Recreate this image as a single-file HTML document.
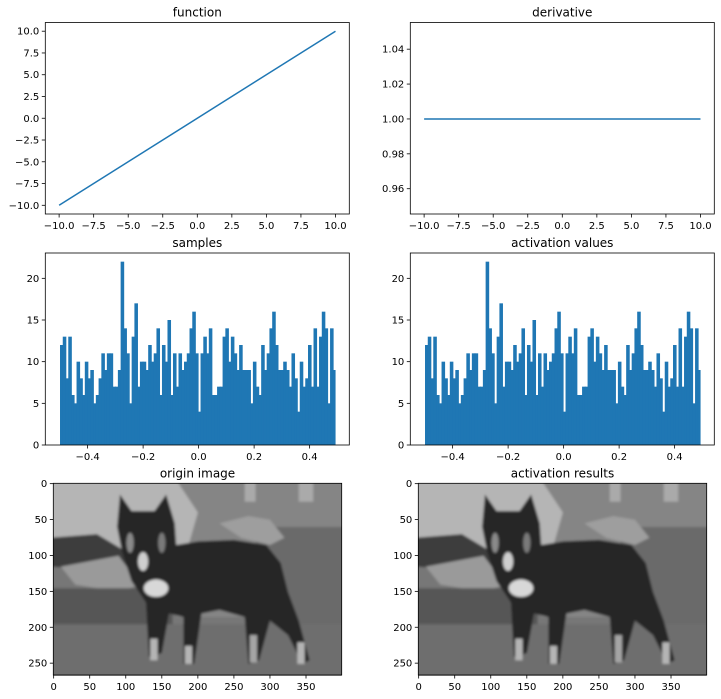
<!DOCTYPE html>
<html><head><meta charset="utf-8">
<style>
html,body{margin:0;padding:0;background:#fff;}
svg{display:block;font-family:"DejaVu Sans","Liberation Sans",sans-serif;}
</style></head>
<body>
<svg id="fig" width="721" height="699" viewBox="0 0 721 699" xmlns="http://www.w3.org/2000/svg">
<defs>
<filter id="blur" x="-5%" y="-5%" width="110%" height="110%"><feGaussianBlur stdDeviation="1.8"/></filter>
<clipPath id="imgclip"><rect x="-0.5" y="-0.5" width="400" height="267"/></clipPath>
</defs>
</svg>
<script>
const funcX = [-10, 10];
const funcY = [-10, 10];
const derivX = [-10, 10];
const derivY = [1, 1];
const funcTicksX = [-10, -7.5, -5, -2.5, 0, 2.5, 5, 7.5, 10];
const funcTicksY = [-10, -7.5, -5, -2.5, 0, 2.5, 5, 7.5, 10];
const derivTicksY = [0.96, 0.98, 1.00, 1.02, 1.04];
const histCounts = [12,13,8,13,6,5,10,8,6,10,8,9,5,6,8,11,9,11,11,7,7,9,22,14,11,5,13,17,7,10,10,9,12,10,11,14,6,12,10,15,6,11,7,11,9,10,11,14,16,11,4,11,13,11,14,6,6,7,7,13,14,10,13,11,9,12,9,9,9,5,10,7,6,12,9,11,14,16,12,9,9,10,9,7,11,8,4,10,7,8,12,7,14,7,13,16,14,5,14,9];
const histMin = -0.4995;
const histMax = 0.4935;
const histTicksX = [-0.4, -0.2, 0.0, 0.2, 0.4];
const histTicksY = [0, 5, 10, 15, 20];
const imgTicksX = [0, 50, 100, 150, 200, 250, 300, 350];
const imgTicksY = [0, 50, 100, 150, 200, 250];

const NS = 'http://www.w3.org/2000/svg';
const fig = document.getElementById('fig');
function mk(tag, attrs, parent) {
  const e = document.createElementNS(NS, tag);
  for (const k in attrs) e.setAttribute(k, attrs[k]);
  (parent || fig).appendChild(e);
  return e;
}
function fmt(v, d) { return (v < 0 ? '\u2212' : '') + Math.abs(v).toFixed(d); }

function makeAxes(name, box, xlim, ylim, title) {
  const g = mk('g', {});
  
  
  const sx = v => box.x0 + (v - xlim[0]) / (xlim[1] - xlim[0]) * (box.x1 - box.x0);
  const sy = v => box.y1 - (v - ylim[0]) / (ylim[1] - ylim[0]) * (box.y1 - box.y0);
  const t = mk('text', {x: (box.x0 + box.x1) / 2, y: box.y0 - 6, 'text-anchor': 'middle', 'font-size': 12, fill: '#000'}, g);
  t.textContent = title;
  
  
  return {g, sx, sy, box};
}
function frame(ax) {
  const b = ax.box;
  const r = mk('rect', {x: b.x0, y: b.y0, width: b.x1 - b.x0, height: b.y1 - b.y0, fill: 'none', stroke: '#000', 'stroke-width': 0.8}, ax.g);
  
  
}
function xticks(ax, ticks, d) {
  const b = ax.box;
  ticks.forEach(v => {
    const x = ax.sx(v);
    mk('line', {x1: x, x2: x, y1: b.y1, y2: b.y1 + 3.5, stroke: '#000', 'stroke-width': 0.8}, ax.g);
    const t = mk('text', {x: x, y: b.y1 + 15, 'text-anchor': 'middle', 'font-size': 10, fill: '#000'}, ax.g);
    t.textContent = fmt(v, d);
    
    
  });
}
function yticks(ax, ticks, d) {
  const b = ax.box;
  ticks.forEach(v => {
    const y = ax.sy(v);
    mk('line', {x1: b.x0 - 3.5, x2: b.x0, y1: y, y2: y, stroke: '#000', 'stroke-width': 0.8}, ax.g);
    const t = mk('text', {x: b.x0 - 6, y: y + 3.5, 'text-anchor': 'end', 'font-size': 10, fill: '#000'}, ax.g);
    t.textContent = fmt(v, d);
    
    
  });
}
function linePlot(ax, xs, ys) {
  const pts = xs.map((x, i) => ax.sx(x) + ',' + ax.sy(ys[i])).join(' ');
  const p = mk('polyline', {points: pts, fill: 'none', stroke: '#1f77b4', 'stroke-width': 1.5}, ax.g);
  
  
}
function hist(ax) {
  const n = histCounts.length, w = (histMax - histMin) / n;
  histCounts.forEach((c, i) => {
    const xa = ax.sx(histMin + i * w), xb = ax.sx(histMin + (i + 1) * w);
    const r = mk('rect', {x: xa, y: ax.sy(c), width: xb - xa + (i < n - 1 ? 0.8 : 0), height: ax.sy(0) - ax.sy(c), fill: '#1f77b4'}, ax.g);
    
    
  });
}
function dog(ax) {
  const b = ax.box;
  const s = (b.x1 - b.x0) / 400;
  const cg = mk('g', {transform: `translate(${b.x0 + 0.5 * s},${b.y0 + 0.5 * s}) scale(${s})`, 'clip-path': 'url(#imgclip)'}, ax.g);
  
  
  const g = mk('g', {filter: 'url(#blur)'}, cg);
  mk('rect', {x: -5, y: -5, width: 410, height: 280, fill: '#777'}, g);
  mk('rect', {x: 170, y: -5, width: 240, height: 190, fill: '#858585'}, g);
  mk('rect', {x: 280, y: 60, width: 130, height: 140, fill: '#6a6a6a'}, g);
  mk('rect', {x: 340, y: -5, width: 20, height: 30, fill: '#aaa'}, g);
  mk('rect', {x: 265, y: -5, width: 15, height: 30, fill: '#aaa'}, g);
  mk('polygon', {points: '-5,-5 170,-5 200,40 180,110 110,100 40,80 -5,75', fill: '#b5b5b5'}, g);
  mk('polygon', {points: '-5,75 60,70 110,100 120,130 70,120 -5,115', fill: '#3e3e3e'}, g);
  mk('polygon', {points: '10,115 90,100 120,140 90,150 30,140', fill: '#9a9a9a'}, g);
  mk('rect', {x: -5, y: 145, width: 170, height: 55, fill: '#565656'}, g);
  mk('rect', {x: -5, y: 195, width: 410, height: 80, fill: '#6e6e6e'}, g);
  mk('polygon', {points: '230,55 270,45 300,50 320,75 300,85 260,75', fill: '#9e9e9e'}, g);
  // dog body
  mk('polygon', {points: '92,15 108,38 140,38 156,15 168,55 170,85 200,80 250,78 295,85 315,110 325,150 340,190 355,245 345,250 325,210 300,190 285,245 270,250 265,185 230,175 205,180 195,250 180,250 180,185 160,180 150,235 132,240 128,165 108,135 95,95 88,60', fill: '#262626'}, g);
  mk('ellipse', {cx: 142, cy: 145, rx: 17, ry: 12, fill: '#d8d8d8'}, g);
  mk('ellipse', {cx: 124, cy: 108, rx: 7, ry: 13, fill: '#cfcfcf'}, g);
  mk('ellipse', {cx: 106, cy: 82, rx: 5, ry: 14, fill: '#8a8a8a'}, g);
  mk('ellipse', {cx: 150, cy: 82, rx: 5, ry: 14, fill: '#7a7a7a'}, g);
  mk('rect', {x: 134, y: 215, width: 10, height: 30, fill: '#b5b5b5'}, g);
  mk('rect', {x: 182, y: 225, width: 10, height: 25, fill: '#b5b5b5'}, g);
  mk('rect', {x: 272, y: 210, width: 10, height: 38, fill: '#a5a5a5'}, g);
  mk('rect', {x: 338, y: 220, width: 10, height: 30, fill: '#b5b5b5'}, g);
}

// function
let ax = makeAxes('function-plot', {x0: 45.3, x1: 349.3, y0: 22.5, y1: 214}, [-11, 11], [-11, 11], 'function');
linePlot(ax, funcX, funcY); frame(ax); xticks(ax, funcTicksX, 1); yticks(ax, funcTicksY, 1);
// derivative
ax = makeAxes('derivative-plot', {x0: 410.3, x1: 714.3, y0: 22.5, y1: 214}, [-11, 11], [0.9455, 1.0553], 'derivative');
linePlot(ax, derivX, derivY); frame(ax); xticks(ax, funcTicksX, 1); yticks(ax, derivTicksY, 2);
// samples
ax = makeAxes('samples-histogram', {x0: 45.3, x1: 349.3, y0: 253, y1: 445}, [-0.5525, 0.543], [0, 23.04], 'samples');
hist(ax); frame(ax); xticks(ax, histTicksX, 1); yticks(ax, histTicksY, 0);
// activation values
ax = makeAxes('activation-values-histogram', {x0: 410.3, x1: 714.3, y0: 253, y1: 445}, [-0.5525, 0.543], [0, 23.04], 'activation values');
hist(ax); frame(ax); xticks(ax, histTicksX, 1); yticks(ax, histTicksY, 0);
// images
ax = makeAxes('origin-image', {x0: 53.3, x1: 341.7, y0: 483.3, y1: 675}, [-0.5, 399.5], [266.5, -0.5], 'origin image');
dog(ax); frame(ax); xticks(ax, imgTicksX, 0); yticks(ax, imgTicksY, 0);
ax = makeAxes('activation-results-image', {x0: 418.3, x1: 706.7, y0: 483.3, y1: 675}, [-0.5, 399.5], [266.5, -0.5], 'activation results');
dog(ax); frame(ax); xticks(ax, imgTicksX, 0); yticks(ax, imgTicksY, 0);
</script>
</body></html>
